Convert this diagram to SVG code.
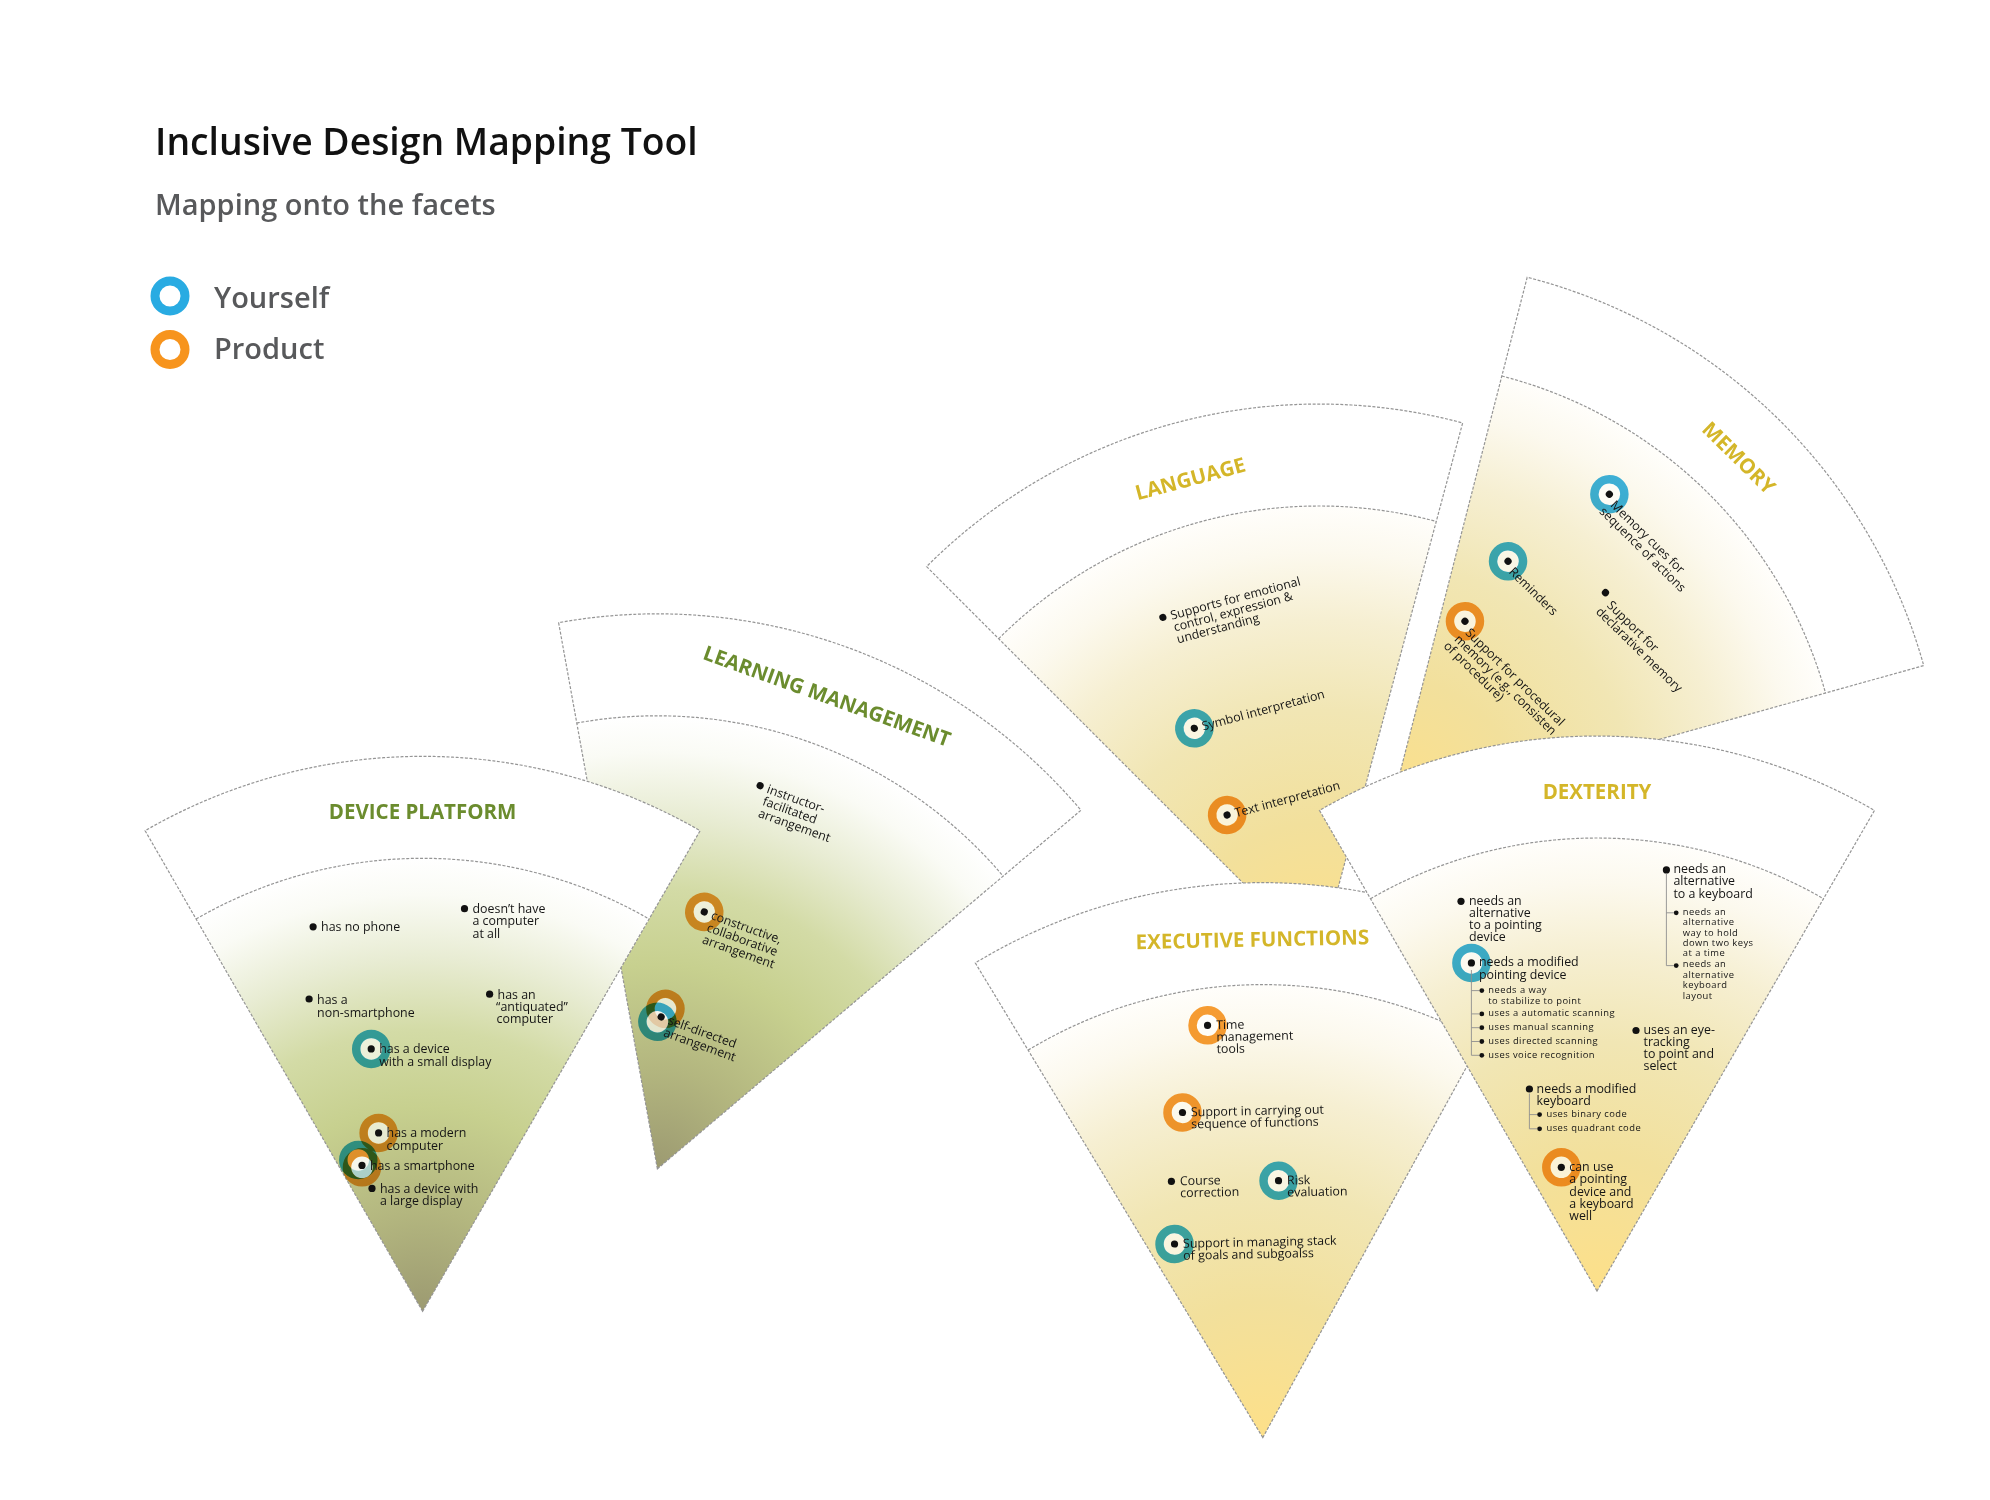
<svg xmlns="http://www.w3.org/2000/svg" xmlns:xlink="http://www.w3.org/1999/xlink" width="1990" height="1500" viewBox="0 0 1990 1500">
  <style>
    .head { font-family: "Open Sans", "Liberation Sans", sans-serif; font-weight: 600; }
    .h1 { font-size: 37.3px; fill: #111; }
    .h2 { font-size: 29px; fill: #58595b; }
    .band { fill: #fff; }
    .outline { fill: none; stroke: #959595; stroke-width: 1.2; stroke-dasharray: 3 1.6; }
    .facet-title { font-family: "Open Sans", "Liberation Sans", sans-serif; font-weight: 700; font-size: 20.5px; text-anchor: middle; }
    .green { fill: #6b8c2e; }
    .gold { fill: #d4b629; }
    .item { font-family: "Open Sans", "Liberation Sans", sans-serif; font-size: 12.4px; fill: #151515; }
    .sub { font-size: 9.4px; letter-spacing: 0.45px; }
    .dot { fill: #111; }
    .sdot { fill: #111; }
    .hole { fill: #fff; fill-opacity: 0.6; }
    .ring { fill: none; stroke-width: 8.5; mix-blend-mode: multiply; opacity: 0.9; }
    .you { stroke: #29abe2; }
    .prod { stroke: #f7941d; }
    .tree { fill: none; stroke: #8f8f8f; stroke-width: 0.9; }
  </style>
  <defs>
    <!-- 60 degree facet, apex at origin, opening upwards -->
    <path id="sector-outer" d="M0 0 L-277.5 -480.6 A555 555 0 0 1 277.5 -480.6 Z"/>
    <path id="sector-inner" d="M0 0 L-226.5 -392.3 A453 453 0 0 1 226.5 -392.3 Z"/>
    <path id="arc-inner" d="M-226.5 -392.3 A453 453 0 0 1 226.5 -392.3"/>
    <radialGradient id="fill-green" gradientUnits="userSpaceOnUse" cx="0" cy="0" r="453">
      <stop offset="0" stop-color="#9c9a71"/>
      <stop offset="0.22" stop-color="#b3b67f"/>
      <stop offset="0.45" stop-color="#c7d08f"/>
      <stop offset="0.62" stop-color="#d3dba6"/>
      <stop offset="0.78" stop-color="#e8ecd3"/>
      <stop offset="0.92" stop-color="#fafbf5"/>
      <stop offset="1" stop-color="#ffffff"/>
    </radialGradient>
    <radialGradient id="fill-gold" gradientUnits="userSpaceOnUse" cx="0" cy="0" r="453">
      <stop offset="0" stop-color="#fde089"/>
      <stop offset="0.3" stop-color="#f2e09c"/>
      <stop offset="0.55" stop-color="#f1e6b4"/>
      <stop offset="0.75" stop-color="#f6efd2"/>
      <stop offset="0.9" stop-color="#fcf9ee"/>
      <stop offset="1" stop-color="#fffefb"/>
    </radialGradient>
  </defs>

  <rect width="1990" height="1500" fill="#fff"/>

  <!-- heading and legend -->
  <g id="heading" class="head">
    <text class="h1" x="155" y="155">Inclusive Design Mapping Tool</text>
    <text class="h2" x="155" y="215">Mapping onto the facets</text>
  </g>
  <g id="legend" class="head">
    <circle cx="170" cy="296" r="15" fill="none" stroke="#29abe2" stroke-width="9"/>
    <text class="h2" x="214" y="308">Yourself</text>
    <circle cx="170" cy="349.5" r="15" fill="none" stroke="#f7941d" stroke-width="9"/>
    <text class="h2" x="214" y="359">Product</text>
  </g>

  <!-- LEARNING MANAGEMENT -->
  <g id="learning-management" transform="translate(657.4 1168.8) rotate(19.75)">
    <use href="#sector-outer" class="band"/>
    <use href="#sector-inner" fill="url(#fill-green)"/>
    <use href="#sector-outer" class="outline"/>
    <use href="#arc-inner" class="outline"/>
    <text class="facet-title green" x="0" y="-495">LEARNING MANAGEMENT</text>
    <g class="item" transform="translate(-32.8 -395.3)">
      <circle class="dot" r="3.6"/>
      <text y="4.5"><tspan x="8">instructor-</tspan><tspan x="8" dy="12.8">facilitated</tspan><tspan x="8" dy="12.8">arrangement</tspan></text>
    </g>
    <g class="item" transform="translate(-42.7 -257.6)">
      <circle class="hole" r="11"/><circle class="ring prod" r="15"/>
      <circle class="dot" r="3.6"/>
      <text y="4.5"><tspan x="8">constructive,</tspan><tspan x="8" dy="12.8">collaborative</tspan><tspan x="8" dy="12.8">arrangement</tspan></text>
    </g>
    <g class="item" transform="translate(-47.8 -144.2)">
      <circle class="hole" cx="1.3" cy="-9.1" r="11"/><circle class="ring prod" cx="1.3" cy="-9.1" r="15"/>
      <circle class="hole" cx="-1.9" cy="5.8" r="11"/><circle class="ring you" cx="-1.9" cy="5.8" r="15"/>
      <circle class="dot" r="3.6"/>
      <text y="4.5"><tspan x="8">self-directed</tspan><tspan x="8" dy="12.8">arrangement</tspan></text>
    </g>
  </g>

  <!-- DEVICE PLATFORM -->
  <g id="device-platform" transform="translate(422.6 1311.3)">
    <use href="#sector-outer" class="band"/>
    <use href="#sector-inner" fill="url(#fill-green)"/>
    <use href="#sector-outer" class="outline"/>
    <use href="#arc-inner" class="outline"/>
    <text class="facet-title green" x="0" y="-492.5">DEVICE PLATFORM</text>
    <g class="item" transform="translate(-109.5 -384.5)">
      <circle class="dot" r="3.6"/>
      <text y="4.5"><tspan x="8">has no phone</tspan></text>
    </g>
    <g class="item" transform="translate(41.9 -402.6)">
      <circle class="dot" r="3.6"/>
      <text y="4.5"><tspan x="8">doesn’t have</tspan><tspan x="8" dy="12.3">a computer</tspan><tspan x="8" dy="12.3">at all</tspan></text>
    </g>
    <g class="item" transform="translate(-113.5 -312.3)">
      <circle class="dot" r="3.6"/>
      <text y="4.5"><tspan x="8">has a</tspan><tspan x="8" dy="13">non-smartphone</tspan></text>
    </g>
    <g class="item" transform="translate(67 -317.1)">
      <circle class="dot" r="3.6"/>
      <text y="4.5"><tspan x="8">has an</tspan><tspan x="6.5" dy="12.3">“antiquated”</tspan><tspan x="7" dy="12.3">computer</tspan></text>
    </g>
    <g class="item" transform="translate(-51.4 -262.4)">
      <circle class="hole" r="11"/><circle class="ring you" r="15"/>
      <circle class="dot" r="3.6"/>
      <text y="4.5"><tspan x="8">has a device</tspan><tspan x="8" dy="12.3">with a small display</tspan></text>
    </g>
    <g class="item" transform="translate(-44 -178.4)">
      <circle class="hole" r="11"/><circle class="ring prod" r="15"/>
      <circle class="dot" r="3.6"/>
      <text y="4.5"><tspan x="8">has a modern</tspan><tspan x="8" dy="12.3">computer</tspan></text>
    </g>
    <g class="item" transform="translate(-60.6 -145.9)">
      <circle class="hole" cx="-3.7" cy="-5.5" r="11"/><circle class="ring you" cx="-3.7" cy="-5.5" r="15"/>
      <circle class="hole" cx="0" cy="1.9" r="11"/><circle class="ring prod" cx="0" cy="1.9" r="15"/>
      <circle class="dot" r="3.6"/>
      <text y="4.5"><tspan x="8">has a smartphone</tspan></text>
    </g>
    <g class="item" transform="translate(-50.6 -122.9)">
      <circle class="dot" r="3.6"/>
      <text y="4.5"><tspan x="8">has a device with</tspan><tspan x="8" dy="12.3">a large display</tspan></text>
    </g>
  </g>

  <!-- LANGUAGE -->
  <g id="language" transform="translate(1319 959) rotate(-15)">
    <use href="#sector-outer" class="band"/>
    <use href="#sector-inner" fill="url(#fill-gold)"/>
    <use href="#sector-outer" class="outline"/>
    <use href="#arc-inner" class="outline"/>
    <text class="facet-title gold" x="0" y="-490">LANGUAGE</text>
    <g class="item" transform="translate(-62.4 -370.4)">
      <circle class="dot" r="3.6"/>
      <text y="4.5"><tspan x="8">Supports for emotional</tspan><tspan x="8" dy="12.3">control, expression &amp;</tspan><tspan x="8" dy="12.3">understanding</tspan></text>
    </g>
    <g class="item" transform="translate(-60.7 -255.1)">
      <circle class="hole" r="11"/><circle class="ring you" r="15"/>
      <circle class="dot" r="3.6"/>
      <text y="4.5"><tspan x="8">Symbol interpretation</tspan></text>
    </g>
    <g class="item" transform="translate(-51.5 -162.9)">
      <circle class="hole" r="11"/><circle class="ring prod" r="15"/>
      <circle class="dot" r="3.6"/>
      <text y="4.5"><tspan x="8">Text interpretation</tspan></text>
    </g>
  </g>

  <!-- MEMORY -->
  <g id="memory" transform="translate(1389.2 814.8) rotate(44.4)">
    <use href="#sector-outer" class="band"/>
    <use href="#sector-inner" fill="url(#fill-gold)"/>
    <use href="#sector-outer" class="outline"/>
    <use href="#arc-inner" class="outline"/>
    <text class="facet-title gold" x="0" y="-492.5">MEMORY</text>
    <g class="item" transform="translate(-67 -383.1)">
      <circle class="hole" r="11"/><circle class="ring you" r="15"/>
      <circle class="dot" r="3.6"/>
      <text y="8"><tspan x="8.5">Memory cues for</tspan><tspan x="5" dy="12.3">sequence of actions</tspan></text>
    </g>
    <g class="item" transform="translate(-92.5 -264.3)">
      <circle class="hole" r="11"/><circle class="ring you" r="15"/>
      <circle class="dot" r="3.6"/>
      <text y="8"><tspan x="8">Reminders</tspan></text>
    </g>
    <g class="item" transform="translate(-81.3 -191.3)">
      <circle class="hole" r="11"/><circle class="ring prod" r="15"/>
      <circle class="dot" r="3.6"/>
      <text y="9"><tspan x="8.5">Support for procedural</tspan><tspan x="5" dy="12.3">memory (e.g., consisten</tspan><tspan x="2" dy="12.3">of procedure)</tspan></text>
    </g>
    <g class="item" transform="translate(-0.9 -310)">
      <circle class="dot" r="3.6"/>
      <text y="9"><tspan x="10">Support for</tspan><tspan x="6.5" dy="12.3">declarative memory</tspan></text>
    </g>
  </g>

  <!-- EXECUTIVE FUNCTIONS -->
  <g id="executive-functions" transform="translate(1262.8 1437.6) rotate(-1.2)">
    <use href="#sector-outer" class="band"/>
    <use href="#sector-inner" fill="url(#fill-gold)"/>
    <use href="#sector-outer" class="outline"/>
    <use href="#arc-inner" class="outline"/>
    <text class="facet-title gold" x="0" y="-491">EXECUTIVE FUNCTIONS</text>
    <g class="item" transform="translate(-46.6 -413.3)">
      <circle class="hole" r="11"/><circle class="ring prod" r="15"/>
      <circle class="dot" r="3.6"/>
      <text y="4"><tspan x="8.5">Time</tspan><tspan x="8.5" dy="12">management</tspan><tspan x="8.5" dy="12">tools</tspan></text>
    </g>
    <g class="item" transform="translate(-73.5 -326.7)">
      <circle class="hole" r="11"/><circle class="ring prod" r="15"/>
      <circle class="dot" r="3.6"/>
      <text y="4"><tspan x="8.5">Support in carrying out</tspan><tspan x="8.5" dy="12">sequence of functions</tspan></text>
    </g>
    <g class="item" transform="translate(-86 -258.1)">
      <circle class="dot" r="3.6"/>
      <text y="4"><tspan x="8.5">Course</tspan><tspan x="8.5" dy="12">correction</tspan></text>
    </g>
    <g class="item" transform="translate(21.1 -256.5)">
      <circle class="hole" r="11"/><circle class="ring you" r="15"/>
      <circle class="dot" r="3.6"/>
      <text y="4"><tspan x="8.5">Risk</tspan><tspan x="8.5" dy="12">evaluation</tspan></text>
    </g>
    <g class="item" transform="translate(-84.2 -195.4)">
      <circle class="hole" r="11"/><circle class="ring you" r="15"/>
      <circle class="dot" r="3.6"/>
      <text y="4"><tspan x="8.5">Support in managing stack</tspan><tspan x="8.5" dy="12">of goals and subgoalss</tspan></text>
    </g>
  </g>

  <!-- DEXTERITY -->
  <g id="dexterity" transform="translate(1597 1291)">
    <use href="#sector-outer" class="band"/>
    <use href="#sector-inner" fill="url(#fill-gold)"/>
    <use href="#sector-outer" class="outline"/>
    <use href="#arc-inner" class="outline"/>
    <text class="facet-title gold" x="0" y="-492.5">DEXTERITY</text>
    <g class="item" transform="translate(-136 -389.7)">
      <circle class="dot" r="3.6"/>
      <text y="3.5"><tspan x="8">needs an</tspan><tspan x="8" dy="12">alternative</tspan><tspan x="8" dy="12.6">to a pointing</tspan><tspan x="8" dy="12">device</tspan></text>
    </g>
    <g class="item" transform="translate(-125.6 -328.1)">
      <circle class="hole" r="11"/><circle class="ring you" r="15"/>
      <circle class="dot" r="3.6"/>
      <text y="3.5"><tspan x="7.5">needs a modified</tspan><tspan x="7.5" dy="12.6">pointing device</tspan></text>
    </g>
    <g class="item sub" transform="translate(-115.2 0)">
      <circle class="sdot" cy="-300.4" r="2.4"/>
      <text y="-297.9"><tspan x="6.5">needs a way</tspan><tspan x="6.5" dy="11">to stabilize to point</tspan></text>
      <circle class="sdot" cy="-277.1" r="2.4"/>
      <text x="6.5" y="-274.6">uses a automatic scanning</text>
      <circle class="sdot" cy="-263.3" r="2.4"/>
      <text x="6.5" y="-260.8">uses manual scanning</text>
      <circle class="sdot" cy="-249.5" r="2.4"/>
      <text x="6.5" y="-247">uses directed scanning</text>
      <circle class="sdot" cy="-235.7" r="2.4"/>
      <text x="6.5" y="-233.2">uses voice recognition</text>
    </g>
    <g class="item" transform="translate(69.4 -421.1)">
      <circle class="dot" r="3.6"/>
      <text y="3.5"><tspan x="7">needs an</tspan><tspan x="7" dy="12">alternative</tspan><tspan x="7" dy="12.7">to a keyboard</tspan></text>
    </g>
    <g class="item sub" transform="translate(79.2 0)">
      <circle class="sdot" cy="-378.2" r="2.4"/>
      <text y="-376.3"><tspan x="6.6">needs an</tspan><tspan x="6.6" dy="10.4">alternative</tspan><tspan x="6.6" dy="10.4">way to hold</tspan><tspan x="6.6" dy="10.4">down two keys</tspan><tspan x="6.6" dy="10.4">at a time</tspan></text>
      <circle class="sdot" cy="-325.4" r="2.4"/>
      <text y="-323.6"><tspan x="6.6">needs an</tspan><tspan x="6.6" dy="10.4">alternative</tspan><tspan x="6.6" dy="10.4">keyboard</tspan><tspan x="6.6" dy="10.4">layout</tspan></text>
    </g>
    <g class="item" transform="translate(39 -260.5)">
      <circle class="dot" r="3.6"/>
      <text y="3.5"><tspan x="7.5">uses an eye-</tspan><tspan x="7.5" dy="12.1">tracking</tspan><tspan x="7.5" dy="12.1">to point and</tspan><tspan x="7.5" dy="12.1">select</tspan></text>
    </g>
    <g class="item" transform="translate(-67.6 -202)">
      <circle class="dot" r="3.6"/>
      <text y="3.8"><tspan x="7.2">needs a modified</tspan><tspan x="7.2" dy="11.8">keyboard</tspan></text>
    </g>
    <g class="item sub" transform="translate(-57.4 0)">
      <circle class="sdot" cy="-176.4" r="2.4"/>
      <text x="6.9" y="-173.9">uses binary code</text>
      <circle class="sdot" cy="-162.2" r="2.4"/>
      <text x="6.9" y="-159.7">uses quadrant code</text>
    </g>
    <g class="item" transform="translate(-35.7 -123.7)">
      <circle class="hole" r="11"/><circle class="ring prod" r="15"/>
      <circle class="dot" r="3.6"/>
      <text y="3.6"><tspan x="8">can use</tspan><tspan x="8" dy="12.4">a pointing</tspan><tspan x="8" dy="12.4">device and</tspan><tspan x="8" dy="12.4">a keyboard</tspan><tspan x="8" dy="12.4">well</tspan></text>
    </g>
  </g>

  <!-- branch lines tying sub-options to their parent need -->
  <g id="connectors" class="tree" transform="translate(1597 1291)">
    <path d="M-125.6 -321 V-235.7 H-117.6 M-125.6 -300.4 H-117.6 M-125.6 -277.1 H-117.6 M-125.6 -263.3 H-117.6 M-125.6 -249.5 H-117.6"/>
    <path d="M69.4 -417 V-325.4 H76.8 M69.4 -378.2 H76.8"/>
    <path d="M-67.6 -197.5 V-162.2 H-59.8 M-67.6 -176.4 H-59.8"/>
  </g>
</svg>
